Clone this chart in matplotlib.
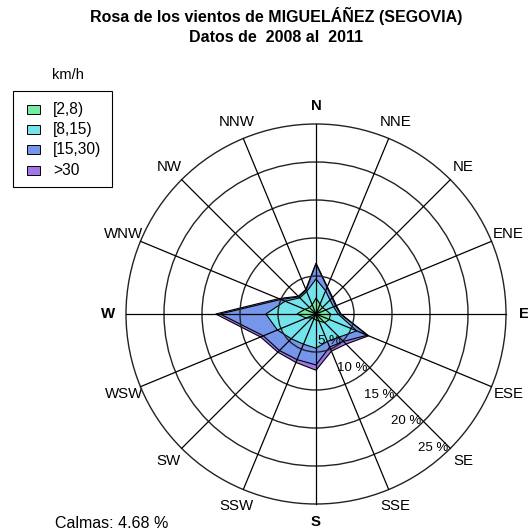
import numpy as np
import matplotlib
matplotlib.use("Agg")
import matplotlib.pyplot as plt
from matplotlib.patches import Rectangle, Circle

plt.rcParams['font.family'] = ['Liberation Sans', 'DejaVu Sans']

# datos (% de frecuencia por clase de velocidad)
rumbos = ["N", "NNE", "NE", "ENE", "E", "ESE", "SE", "SSE",
          "S", "SSW", "SW", "WSW", "W", "WNW", "NW", "NNW"]
clases = ["[2,8)", "[8,15)", "[15,30)", ">30"]
f_2_8 = [2.1, 1.4, 1.2, 1.4, 1.9, 1.9, 1.6, 1.0, 0.8, 0.7, 0.7, 1.4, 2.5, 1.6, 1.2, 1.3]
f_8_15 = [2.5, 1.9, 1.4, 1.1, 1.0, 3.9, 2.7, 2.9, 3.7, 3.6, 3.9, 4.1, 4.1, 2.8, 1.8, 1.9]
f_15_30 = [2.0, 0.5, 0.4, 0.3, 0.3, 1.5, 0.8, 0.8, 2.2, 2.2, 2.2, 2.0, 6.0, 0.6, 0.2, 0.2]
f_30 = [0.1, 0.1, 0.1, 0.1, 0.1, 0.2, 0.5, 0.6, 0.7, 0.4, 0.3, 0.4, 0.6, 0.3, 0.1, 0.1]
anillos = [5, 10, 15, 20, 25]
calmas = 4.68
colores = ["#75EBA4", "#75E3EB", "#7596EB", "#A275EB"]

fig = plt.figure(figsize=(5.28, 5.32), dpi=100)
esc = 7.6  # pixeles por 1 %
ax = fig.add_axes([0, 0, 1, 1])
ax.set_xlim(-316 / esc, 212 / esc)
ax.set_ylim(-218 / esc, 314 / esc)
ax.axis('off')

ang = np.deg2rad(np.arange(16) * 22.5)
acum = np.cumsum([f_2_8, f_8_15, f_15_30, f_30], axis=0)

# poligonos apilados, de fuera hacia dentro
for k in range(3, -1, -1):
    r = np.append(acum[k], acum[k][0])
    a = np.append(ang, ang[0])
    ax.fill(r * np.sin(a), r * np.cos(a), facecolor=colores[k],
            edgecolor='black', lw=0.8, zorder=2 + (3 - k))

# circulos y radios
for r in anillos:
    ax.add_patch(Circle((0, 0), r, fill=False, ec='#222222', lw=1.0, zorder=10))
rmax = anillos[-1]
for a in ang:
    ax.plot([0, rmax * np.sin(a)], [0, rmax * np.cos(a)], color='black', lw=0.9, zorder=11)

# etiquetas de porcentaje sobre el rumbo SE
for r in anillos:
    ax.text(r * np.sin(np.pi * 0.75) - 0.3, r * np.cos(np.pi * 0.75), f"{r} %",
            ha='right', va='center', fontsize=9.5, zorder=12)

# etiquetas de rumbos
for nom, a in zip(rumbos, ang):
    peso = 'bold' if nom in ("N", "E", "S", "W") else 'normal'
    ax.text(27.4 * np.sin(a), 27.4 * np.cos(a), nom, ha='center', va='center',
            fontsize=10.8, fontweight=peso)

# capa en pixeles para titulo y leyenda
lay = fig.add_axes([0, 0, 1, 1])
lay.set_xlim(0, 528)
lay.set_ylim(532, 0)
lay.axis('off')
lay.patch.set_alpha(0)

lay.text(276, 16, "Rosa de los vientos de MIGUELÁÑEZ (SEGOVIA)", ha='center', va='center',
         fontsize=11.5, fontweight='bold')
lay.text(276, 37, "Datos de  2008 al  2011", ha='center', va='center',
         fontsize=11.5, fontweight='bold')

lay.text(68, 75, "km/h", ha='center', va='center', fontsize=10.5)
lay.add_patch(Rectangle((13, 91), 99, 96, fill=False, ec='black', lw=0.8))
for i, (c, nom) in enumerate(zip(colores, clases)):
    y = 109.5 + i * 20.2
    lay.add_patch(Rectangle((27, y - 4.5), 13, 9, facecolor=c, ec='black', lw=0.7))
    lay.text(53, y, nom, ha='left', va='center', fontsize=11.2)

lay.text(55, 523, f"Calmas: {calmas:.2f} %", ha='left', va='center', fontsize=11.5)

fig.savefig("out.png", dpi=100)
